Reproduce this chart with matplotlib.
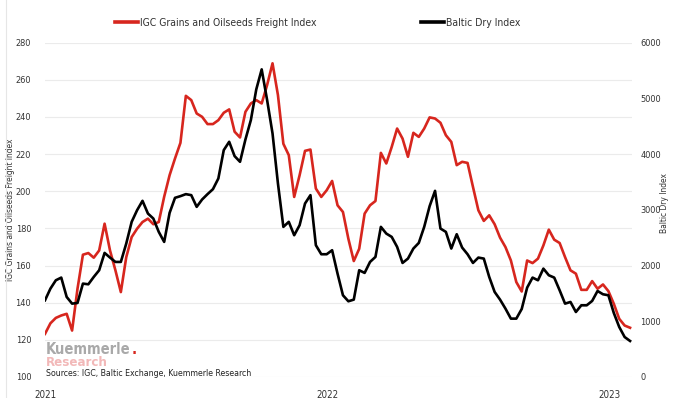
import matplotlib
matplotlib.use("Agg")
import matplotlib.pyplot as plt
from matplotlib import font_manager
from matplotlib.lines import Line2D
import pandas as pd

# ---- data (weekly) ----
start_date = "2021-01-01"
igc = [123.2, 128.9, 131.8, 133.1, 134.0, 125.0, 147.5, 165.8, 166.7, 164.2,
       168.1, 182.5, 168.1, 157.4, 145.7, 164.5, 175.3, 179.8, 183.4, 185.2,
       182.2, 183.4, 197.0, 208.6, 217.6, 226.0, 251.3, 249.0, 241.8, 240.0,
       236.1, 236.1, 238.2, 242.2, 244.0, 232.0, 228.9, 242.7, 247.2, 249.0,
       247.2, 257.1, 268.8, 251.7, 225.5, 219.4, 196.9, 208.6, 221.7, 222.4,
       201.4, 196.9, 200.5, 205.5, 192.4, 188.8, 174.4, 162.4, 169.0, 187.9,
       192.4, 194.7, 220.6, 214.9, 223.8, 233.7, 228.3, 218.5, 231.4, 229.2,
       233.7, 239.7, 239.1, 236.8, 230.1, 226.5, 214.0, 215.8, 215.2, 202.3,
       189.7, 184.0, 187.0, 182.2, 175.0, 169.9, 162.7, 151.1, 146.0, 162.7,
       161.3, 163.7, 170.8, 179.3, 173.9, 172.1, 164.5, 157.4, 155.6, 146.9,
       146.9, 151.6, 147.5, 149.8, 146.2, 139.4, 131.3, 127.7, 126.5]
bdi = [1376, 1585, 1735, 1783, 1436, 1316, 1328, 1675, 1663, 1795,
       1915, 2226, 2142, 2064, 2064, 2394, 2783, 2992, 3160, 2932,
       2842, 2603, 2423, 2944, 3214, 3244, 3280, 3262, 3052, 3184,
       3280, 3369, 3561, 4070, 4219, 3962, 3860, 4261, 4608, 5159,
       5518, 4968, 4369, 3471, 2693, 2783, 2543, 2723, 3112, 3262,
       2364, 2202, 2202, 2274, 1855, 1466, 1358, 1388, 1915, 1867,
       2064, 2154, 2693, 2573, 2513, 2334, 2046, 2124, 2304, 2405,
       2693, 3064, 3339, 2663, 2603, 2304, 2561, 2322, 2202, 2046,
       2142, 2124, 1795, 1526, 1388, 1226, 1047, 1047, 1220, 1603,
       1783, 1735, 1944, 1825, 1783, 1555, 1316, 1346, 1166, 1286,
       1286, 1364, 1543, 1484, 1466, 1148, 897, 717, 646]
left_ticks = [100, 120, 140, 160, 180, 200, 220, 240, 260, 280]
right_ticks = [0, 1000, 2000, 3000, 4000, 5000, 6000]
year_ticks = ["2021-01-01", "2022-01-01", "2023-01-01"]
year_labels = ["2021", "2022", "2023"]
series_names = ["IGC Grains and Oilseeds Freight Index", "Baltic Dry Index"]

dates = pd.date_range(start_date, periods=len(igc), freq="7D")

# ---- pick a narrow/condensed face if one is installed ----
prefs = ["liberationsansnarrow-regular", "dejavusanscondensed.", "robotocondensed-regular",
         "opensans_condensed", "opensans-condensed", "notosans-condensed",
         "notosansdisplay-condensed"]
chosen = None
ttfs = font_manager.fontManager.ttflist
for p in prefs:
    for f in ttfs:
        if p in f.fname.lower().replace(" ", ""):
            chosen = f
            break
    if chosen is not None:
        break
if chosen is not None:
    plt.rcParams["font.family"] = [chosen.name, "DejaVu Sans"]
    plt.rcParams["font.stretch"] = chosen.stretch
    scale = 1.0
else:
    plt.rcParams["font.family"] = ["DejaVu Sans"]
    scale = 0.85

RED = "#d7261e"
TXT = "#333333"

fig = plt.figure(figsize=(6.73, 3.98), dpi=100)
ax = fig.add_axes([45 / 673, 1 - 377 / 398, (632 - 45) / 673, (377 - 42.5) / 398])
ax2 = ax.twinx()

ax.plot(dates, igc, color=RED, lw=1.9, solid_joinstyle="round")
ax2.plot(dates, bdi, color="black", lw=1.9, solid_joinstyle="round")

ax.set_ylim(100, 280)
ax2.set_ylim(0, 6000)
ax.set_yticks(left_ticks)
ax2.set_yticks(right_ticks)
ax.set_xlim(pd.Timestamp("2021-01-01"), pd.Timestamp("2023-01-29 12:00"))
ax.set_xticks(pd.to_datetime(year_ticks))
ax.set_xticklabels(year_labels)

for a in (ax, ax2):
    for s in a.spines.values():
        s.set_visible(False)
ax.grid(axis="y", color="#ebebeb", lw=0.8)
ax.set_axisbelow(True)
ax.tick_params(axis="x", length=0, labelsize=7 * scale, labelcolor=TXT, pad=9)
ax.tick_params(axis="y", length=0, labelsize=6.6 * scale, labelcolor=TXT, pad=10)
ax2.tick_params(axis="y", length=0, labelsize=6.6 * scale, labelcolor=TXT, pad=6)

ax.set_ylabel(series_names[0], fontsize=6 * scale, color=TXT)
ax.yaxis.set_label_coords(-30 / 587, 0.5)
ax2.set_ylabel(series_names[1], fontsize=6 * scale, color=TXT)
ax2.yaxis.set_label_coords(1 + 28 / 587, 0.52)

handles = [Line2D([], [], color=RED, lw=2.6), Line2D([], [], color="black", lw=2.6)]
fig.legend(handles, series_names, loc="center", bbox_to_anchor=(318 / 673, 1 - 23 / 398),
           ncol=2, frameon=False, fontsize=7.5 * scale, handlelength=2.2 / scale,
           handletextpad=0.2, columnspacing=10.0 / scale, labelcolor=TXT)

# logo and source
t1 = fig.text(46 / 673, 1 - 349 / 398, "Kuemmerle", fontsize=10.5 * scale, fontweight="bold",
              color="#a9a9a9", va="center", ha="left")
fig.canvas.draw()
bb = t1.get_window_extent(renderer=fig.canvas.get_renderer())
fig.text(bb.x1 / fig.bbox.width + 1 / 673, 1 - 349 / 398, ".", fontsize=10.5 * scale,
         fontweight="bold", color=RED, va="center", ha="left")
fig.text(46 / 673, 1 - 362 / 398, "Research", fontsize=9.5 * scale, fontweight="bold",
         color="#f2b8b8", va="center", ha="left")
fig.text(46 / 673, 1 - 373 / 398, "Sources: IGC, Baltic Exchange, Kuemmerle Research",
         fontsize=6.3 * scale, color="#222222", va="center", ha="left")

fig.add_artist(Line2D([6 / 673, 6 / 673], [0, 1], color="#e6e6e6", lw=0.8,
                      transform=fig.transFigure))

fig.savefig("out.png", dpi=100)
